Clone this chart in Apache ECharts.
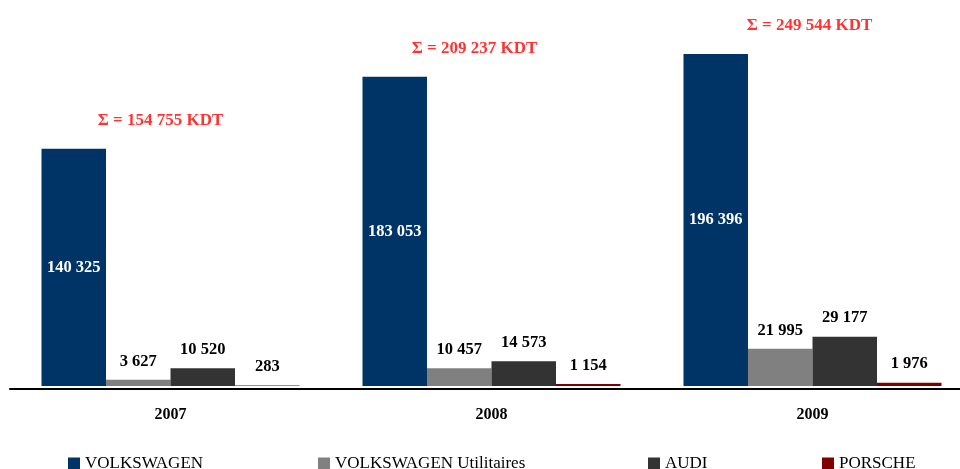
<!DOCTYPE html>
<html><head><meta charset="utf-8">
<script src="https://cdn.jsdelivr.net/npm/echarts@6/dist/echarts.min.js"></script>
<style>html,body{margin:0;padding:0;background:#fff}#c{width:960px;height:469px}</style>
</head><body><div id="c"></div>
<script>
var years = ['2007', '2008', '2009'];
var seriesNames = ['VOLKSWAGEN', 'VOLKSWAGEN Utilitaires', 'AUDI', 'PORSCHE'];
var volkswagen = [140325, 183053, 196396];
var vwUtilitaires = [3627, 10457, 21995];
var audi = [10520, 14573, 29177];
var porsche = [283, 1154, 1976];
var totals = [154755, 209237, 249544];

var colors = ['#003366', '#808080', '#333333', '#800000'];
var sumShiftX = [-10, -17, -3];
var legendLeft = [68, 318, 648, 822];
var font = 'Liberation Serif, Times New Roman, serif';

function fmt(v) { return String(v).replace(/\B(?=(\d{3})+(?!\d))/g, ' '); }

var values = [volkswagen, vwUtilitaires, audi, porsche];
var series = values.map(function (arr, i) {
  return {
    name: seriesNames[i], type: 'bar', data: arr,
    barWidth: 64.5, barGap: '0%',
    itemStyle: { color: colors[i] },
    label: {
      show: true,
      position: i === 0 ? 'inside' : 'top',
      distance: 10,
      color: i === 0 ? '#fff' : '#000',
      fontFamily: font, fontWeight: 'bold', fontSize: 16.5,
      formatter: function (p) { return fmt(p.value); }
    }
  };
});
series.push({
  name: 'total', type: 'scatter', symbolSize: 0, silent: true,
  data: volkswagen.map(function (v, i) {
    return { value: v, label: { offset: [sumShiftX[i], 0] } };
  }),
  label: {
    show: true, position: 'top', distance: 20,
    color: '#ff0000', fontFamily: font, fontWeight: 'bold', fontSize: 17,
    formatter: function (p) { return '\u03A3 = ' + fmt(totals[p.dataIndex]) + ' KDT'; }
  }
});

var legends = seriesNames.map(function (n, i) {
  return {
    data: [n], top: 455, left: legendLeft[i], padding: 0,
    itemWidth: 12, itemHeight: 12, icon: 'rect', itemGap: 0,
    textStyle: { fontFamily: font, fontSize: 17, color: '#000', padding: [0, 0, 0, 0] }
  };
});

var chart = echarts.init(document.getElementById('c'));
chart.setOption({
  animation: false,
  grid: { left: 10, width: 963, top: 48, height: 338, containLabel: false, outerBoundsMode: 'none' },
  xAxis: {
    type: 'category', data: years, offset: 3,
    axisLine: { onZero: false, lineStyle: { color: '#000', width: 2 } },
    axisTick: { show: false },
    axisLabel: { margin: 18, color: '#000', fontFamily: font, fontWeight: 'bold', fontSize: 16 }
  },
  yAxis: { type: 'value', min: 0, max: 200000, show: false, splitLine: { show: false } },
  legend: legends,
  series: series
});
</script></body></html>
